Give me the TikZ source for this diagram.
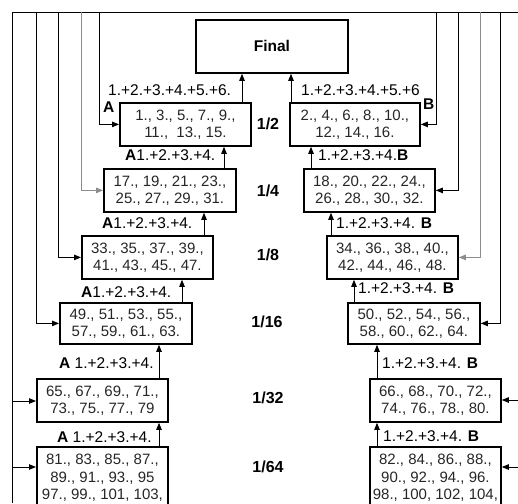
\documentclass[tikz,border=0pt]{standalone}
\usepackage{fontspec}
\setmainfont{Liberation Sans}
\usetikzlibrary{arrows.meta}
\begin{document}
\begin{tikzpicture}[x=1pt,y=-1pt,
  box/.style={draw, line width=1.8pt, inner sep=0pt, align=center, anchor=north west,
    font=\fontsize{15}{17}\selectfont, text=black!85},
  lbl/.style={anchor=west, inner sep=0pt, font=\fontsize{15.5}{17}\selectfont},
  lvl/.style={inner sep=0pt, font=\bfseries\fontsize{16}{18}\selectfont},
  arr/.style={line width=0.9pt, -{Triangle[length=7pt,width=5.5pt]}},
  fb/.style={line width=0.9pt},
  gfb/.style={fb, draw=black!45},
]
\useasboundingbox (0,0) rectangle (518,503);
\clip (0,0) rectangle (518,503);

% boxes
\node[box, minimum width=152pt, minimum height=53pt, font=\bfseries\fontsize{15.5}{17}\selectfont, text=black] (fin) at (195,19) {Final};
\node[box, minimum width=131pt, minimum height=43pt] (l2) at (119,102) {1., 3., 5., 7., 9.,\\11., \ 13., 15.};
\node[box, minimum width=130pt, minimum height=43pt] (r2) at (289,102) {2., 4., 6., 8., 10.,\\12., 14., 16.};
\node[box, minimum width=132pt, minimum height=43pt] (l4) at (103,168) {17., 19., 21., 23.,\\25., 27., 29., 31.};
\node[box, minimum width=131pt, minimum height=43pt] (r4) at (303,168) {18., 20., 22., 24.,\\26., 28., 30., 32.};
\node[box, minimum width=131pt, minimum height=43pt] (l8) at (81,235) {33., 35., 37., 39.,\\41., 43., 45., 47.};
\node[box, minimum width=131pt, minimum height=43pt] (r8) at (326,235) {34., 36., 38., 40.,\\42., 44., 46., 48.};
\node[box, minimum width=132pt, minimum height=41pt] (l16) at (59,302) {49., 51., 53., 55.,\\57., 59., 61., 63.};
\node[box, minimum width=132pt, minimum height=41pt] (r16) at (347,302) {50., 52., 54., 56.,\\58., 60., 62., 64.};
\node[box, minimum width=131pt, minimum height=43pt] (l32) at (36,378) {65., 67., 69., 71.,\\73., 75., 77., 79};
\node[box, minimum width=131pt, minimum height=43pt] (r32) at (369,378) {66., 68., 70., 72.,\\74., 76., 78., 80.};
\node[box, minimum width=131pt, minimum height=62pt, font=\fontsize{15}{17.5}\selectfont] (l64) at (36,446) {81., 83., 85., 87.,\\89., 91., 93., 95\\97., 99., 101, 103,};
\node[box, minimum width=131pt, minimum height=62pt, font=\fontsize{15}{17.5}\selectfont] (r64) at (369,446) {82., 84., 86., 88.,\\90., 92., 94., 96.\\98., 100, 102, 104,};

% level labels
\node[lvl] (v2) at (268,124) {1/2};
\node[lvl] (v4) at (268,191) {1/4};
\node[lvl] (v8) at (268,255) {1/8};
\node[lvl] (v16) at (267,322) {1/16};
\node[lvl] (v32) at (268,398) {1/32};
\node[lvl] (v64) at (268,467) {1/64};

% upward arrows
\draw[arr] (l2.north -| 242,0) -- (fin.south -| 242,0);
\draw[arr] (r2.north -| 291,0) -- (fin.south -| 291,0);
\draw[arr] (l4.north -| 224,0) -- (l2.south -| 224,0);
\draw[arr] (r4.north -| 311,0) -- (r2.south -| 311,0);
\draw[arr] (l8.north -| 204,0) -- (l4.south -| 204,0);
\draw[arr] (r8.north -| 331,0) -- (r4.south -| 331,0);
\draw[arr] (l16.north -| 182,0) -- (l8.south -| 182,0);
\draw[arr] (r16.north -| 354,0) -- (r8.south -| 354,0);
\draw[arr] (l32.north -| 159,0) -- (l16.south -| 159,0);
\draw[arr] (r32.north -| 377,0) -- (r16.south -| 377,0);
\draw[arr] (l64.north -| 159,0) -- (l32.south -| 159,0);
\draw[arr] (r64.north -| 377,0) -- (r32.south -| 377,0);

% feedback lines
\coordinate (tl) at (12,12);
\coordinate (tr) at (518,12);
\coordinate (bl) at (12,503);
\draw[fb] (bl) -- (tl) -- (tr);
\draw[arr] (99,12) |- (l2.west);
\draw[arr, gfb] (81,12) |- (l4.west);
\draw[arr] (58,12) |- (l8.west);
\draw[arr] (36,12) |- (l16.west);
\draw[arr] (12,401) -- (l32.west |- 0,401);
\draw[arr] (12,467) -- (l64.west |- 0,467);
\draw[arr] (436,12) |- (r2.east);
\draw[arr] (458,12) |- (r4.east);
\draw[arr, gfb] (480,12) |- (r8.east);
\draw[arr] (500,12) |- (r16.east);
\draw[arr] (518,400) -- (r32.east |- 0,400);
\draw[arr] (518,467) -- (r64.east |- 0,467);

% connector labels
\node[lbl] (la2) at (108,90) {1.+2.+3.+4.+5.+6.};
\node[lbl, font=\bfseries\fontsize{15.5}{17}\selectfont] (lA) at (103,107) {A};
\node[lbl] (ra2) at (301,90) {1.+2.+3.+4.+5.+6};
\node[lbl, font=\bfseries\fontsize{15.5}{17}\selectfont] (rB) at (423,104) {B};
\node[lbl] (la4) at (125,155) {\textbf{A}1.+2.+3.+4.};
\node[lbl] (ra4) at (318,155) {1.+2.+3.+4.\textbf{B}};
\node[lbl] (la8) at (102,223) {\textbf{A}1.+2.+3.+4.};
\node[lbl] (ra8) at (336,223) {1.+2.+3.+4. \textbf{B}};
\node[lbl] (la16) at (81,292) {\textbf{A}1.+2.+3.+4.};
\node[lbl] (ra16) at (358,288) {1.+2.+3.+4. \textbf{B}};
\node[lbl] (la32) at (59,363) {\textbf{A} 1.+2.+3.+4.};
\node[lbl] (ra32) at (382,363) {1.+2.+3.+4. \textbf{B}};
\node[lbl] (la64) at (57,437) {\textbf{A} 1.+2.+3.+4.};
\node[lbl] (ra64) at (383,436) {1.+2.+3.+4. \textbf{B}};
\end{tikzpicture}
\end{document}
